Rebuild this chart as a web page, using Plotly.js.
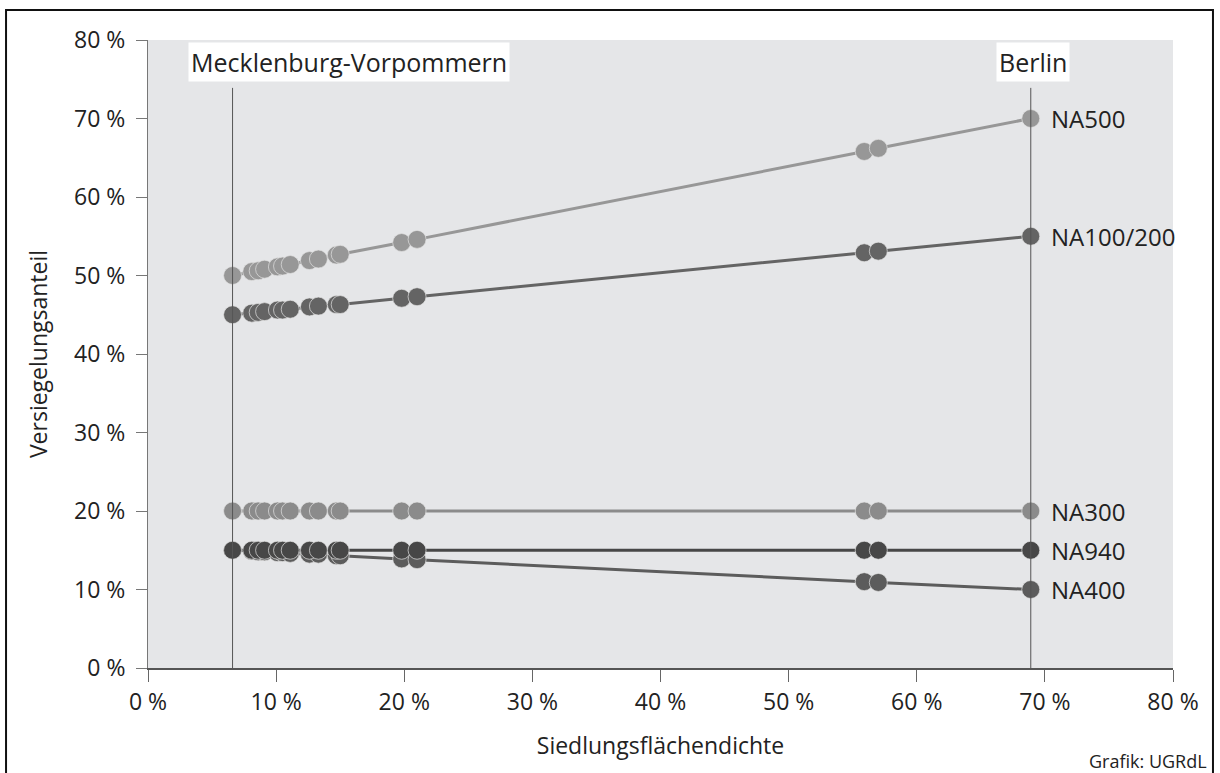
<!DOCTYPE html>
<html>
<head>
<meta charset="utf-8">
<script src="https://cdn.plot.ly/plotly-3.0.1.min.js"></script>
<style>
  html, body { margin: 0; padding: 0; background: #ffffff; }
  #chart { width: 1220px; height: 773px; }
</style>
</head>
<body>
<div id="chart"></div>
<script>
// Siedlungsflächendichte (%) per Land, sorted
const density = [6.6, 8.1, 8.6, 9.1, 10.1, 10.5, 11.1, 12.6, 13.3, 14.7, 15.0, 19.8, 21.0, 55.9, 57.0, 68.9];

// Versiegelungsanteil (%) per Nutzungsart
const seriesNames = ["NA400", "NA940", "NA300", "NA100/200", "NA500"];
const na400    = [15.0, 14.9, 14.8, 14.8, 14.7, 14.7, 14.6, 14.5, 14.5, 14.3, 14.3, 13.9, 13.8, 11.0, 10.9, 10.0];
const na940    = [15, 15, 15, 15, 15, 15, 15, 15, 15, 15, 15, 15, 15, 15, 15, 15];
const na300    = [20, 20, 20, 20, 20, 20, 20, 20, 20, 20, 20, 20, 20, 20, 20, 20];
const na100200 = [45.0, 45.2, 45.3, 45.4, 45.6, 45.6, 45.7, 46.0, 46.1, 46.3, 46.3, 47.1, 47.3, 52.9, 53.1, 55.0];
const na500    = [50.0, 50.5, 50.6, 50.8, 51.1, 51.2, 51.4, 51.9, 52.1, 52.6, 52.7, 54.2, 54.6, 65.8, 66.2, 70.0];

const refNames = ["Mecklenburg-Vorpommern", "Berlin"];
const refX = [6.6, 68.9];
const tickVals = [0, 10, 20, 30, 40, 50, 60, 70, 80];
const tickLabels = ["0 %", "10 %", "20 %", "30 %", "40 %", "50 %", "60 %", "70 %", "80 %"];

const seriesData = [na400, na940, na300, na100200, na500];
const seriesColors = ["#5c5c5c", "#474747", "#8b8b8b", "#646464", "#979797"];

const traces = seriesData.map((ys, i) => ({
  type: "scatter",
  mode: "lines+markers",
  name: seriesNames[i],
  x: density,
  y: ys,
  line: { color: seriesColors[i], width: 3 },
  marker: { color: seriesColors[i], size: 18, line: { color: "rgba(225,225,225,0.7)", width: 1 } },
  cliponaxis: false,
  hoverinfo: "x+y+name"
}));

const font = "'Open Sans', 'Noto Sans', sans-serif";

const annotations = [];
refNames.forEach((t, i) => {
  annotations.push({
    x: i === 0 ? 15.7 : refX[i] + 0.2, y: 77.2, xref: "x", yref: "y",
    text: t, showarrow: false, xanchor: "center", yanchor: "middle",
    bgcolor: "#ffffff", borderpad: 2,
    font: { family: font, size: 25, color: "#222222" }
  });
});
seriesData.forEach((ys, i) => {
  annotations.push({
    x: density[density.length - 1], y: ys[ys.length - 1], xref: "x", yref: "y",
    text: seriesNames[i], showarrow: false, xanchor: "left", yanchor: "middle",
    xshift: 18,
    font: { family: font, size: 24, color: "#222222" }
  });
});
annotations.push({
  x: 1.035, y: -0.148, xref: "paper", yref: "paper",
  text: "Grafik: UGRdL", showarrow: false, xanchor: "right", yanchor: "middle",
  font: { family: font, size: 18, color: "#222222" }
});

const shapes = refX.map(v => ({
  type: "line", xref: "x", yref: "y", x0: v, x1: v, y0: 0, y1: 73.9,
  line: { color: "#555555", width: 1 }, layer: "above"
}));
shapes.push({
  type: "rect", xref: "paper", yref: "paper",
  x0: -0.1385, x1: 1.0390, y0: -0.25, y1: 1.0478,
  line: { color: "#111111", width: 2 }, fillcolor: "rgba(0,0,0,0)", layer: "above"
});

const layout = {
  width: 1220, height: 773,
  margin: { l: 148, r: 47, t: 40, b: 105 },
  paper_bgcolor: "#ffffff",
  plot_bgcolor: "#e5e6e8",
  showlegend: false,
  font: { family: font, size: 22, color: "#222222" },
  xaxis: {
    range: [0, 80], tickmode: "array", tickvals: tickVals, ticktext: tickLabels,
    showgrid: false, zeroline: false,
    showline: true, linecolor: "#555555", linewidth: 2,
    ticks: "outside", ticklen: 12, tickcolor: "#666666", tickwidth: 1,
    tickfont: { family: font, size: 23, color: "#222222" },
    title: { text: "Siedlungsflächendichte", standoff: 22, font: { family: font, size: 23, color: "#222222" } }
  },
  yaxis: {
    range: [0, 80], tickmode: "array", tickvals: tickVals, ticktext: tickLabels,
    showgrid: false, zeroline: false,
    showline: true, linecolor: "#777777", linewidth: 1,
    ticks: "outside", ticklen: 11, tickcolor: "#777777", tickwidth: 1,
    ticklabelstandoff: 6,
    tickfont: { family: font, size: 23, color: "#222222" },
    title: { text: "Versiegelungsanteil", standoff: 20, font: { family: font, size: 23, color: "#222222" } }
  },
  annotations: annotations,
  shapes: shapes
};

Plotly.newPlot("chart", traces, layout, { displayModeBar: false, staticPlot: true });
</script>
</body>
</html>
